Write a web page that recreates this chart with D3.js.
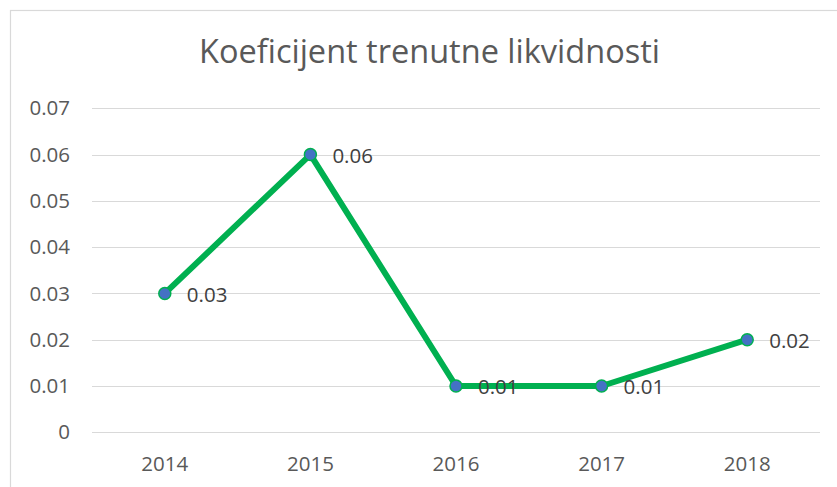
<!DOCTYPE html>
<html><head><meta charset="utf-8">
<script src="https://cdn.jsdelivr.net/npm/d3@7"></script>
<style>body{margin:0;background:#fff;} svg{display:block;}</style>
</head><body>
<svg id="c" width="837" height="487"></svg>
<script>
const title = "Koeficijent trenutne likvidnosti";
const categories = ["2014","2015","2016","2017","2018"];
const values = [0.03, 0.06, 0.01, 0.01, 0.02];
const yTicks = [0, 0.01, 0.02, 0.03, 0.04, 0.05, 0.06, 0.07];

const svg = d3.select("#c");
const font = "'Open Sans', 'Noto Sans', sans-serif";
const labelSize = "20.5px";
// chart frame (right and bottom edges fall outside the picture)
svg.append("rect").attr("x",10.5).attr("y",10.5).attr("width",900).attr("height",500)
  .attr("fill","#fff").attr("stroke","#d9d9d9").attr("stroke-width",1.2);

const x = d3.scaleBand().domain(categories).range([92, 820]);
const y = d3.scaleLinear().domain([0, 0.07]).range([432.3, 108.3]);

// gridlines
svg.append("g").selectAll("line").data(yTicks).join("line")
  .attr("x1",92).attr("x2",820)
  .attr("y1",d=>Math.round(y(d))+0.5).attr("y2",d=>Math.round(y(d))+0.5)
  .attr("stroke","#d9d9d9").attr("stroke-width",1);

// y axis labels
const yAxis = d3.axisLeft(y).tickValues(yTicks).tickSize(0).tickPadding(0)
  .tickFormat(d => d === 0 ? "0" : d3.format(".2f")(d));
const gy = svg.append("g").attr("transform","translate(70,0)").call(yAxis);
gy.select(".domain").remove();
gy.selectAll("text").attr("fill","#595959").attr("font-size",labelSize).attr("font-family",font);

// x axis labels
const xAxis = d3.axisBottom(x).tickSize(0).tickPadding(0);
const gx = svg.append("g").attr("transform","translate(0,456)").call(xAxis);
gx.select(".domain").remove();
gx.selectAll("text").attr("fill","#595959").attr("font-size",labelSize).attr("font-family",font)
  .attr("dy","0.71em");

const cx = d => x(d) + x.bandwidth()/2;
const pts = categories.map((c,i)=>({c, v: values[i]}));

svg.append("path").datum(pts)
  .attr("d", d3.line().x(d=>cx(d.c)).y(d=>y(d.v)))
  .attr("fill","none").attr("stroke","#00B050").attr("stroke-width",6)
  .attr("stroke-linejoin","round").attr("stroke-linecap","round");

svg.append("g").selectAll("circle").data(pts).join("circle")
  .attr("cx",d=>cx(d.c)).attr("cy",d=>y(d.v)).attr("r",6)
  .attr("fill","#4472C4").attr("stroke","#00B050").attr("stroke-width",1.5);

svg.append("g").selectAll("text").data(pts).join("text")
  .attr("x",d=>cx(d.c)+22).attr("y",d=>y(d.v)+8.4)
  .attr("fill","#404040").attr("font-size",labelSize).attr("font-family",font)
  .text(d=>d3.format(".2f")(d.v));

// title
const t = svg.append("text").attr("x",429.5).attr("y",63).attr("text-anchor","middle")
  .attr("fill","#595959").attr("font-family",font).attr("font-size","28px").text(title);
const w = t.node().getComputedTextLength();
t.attr("font-size", (28*461/w).toFixed(2)+"px");
</script>
</body></html>
